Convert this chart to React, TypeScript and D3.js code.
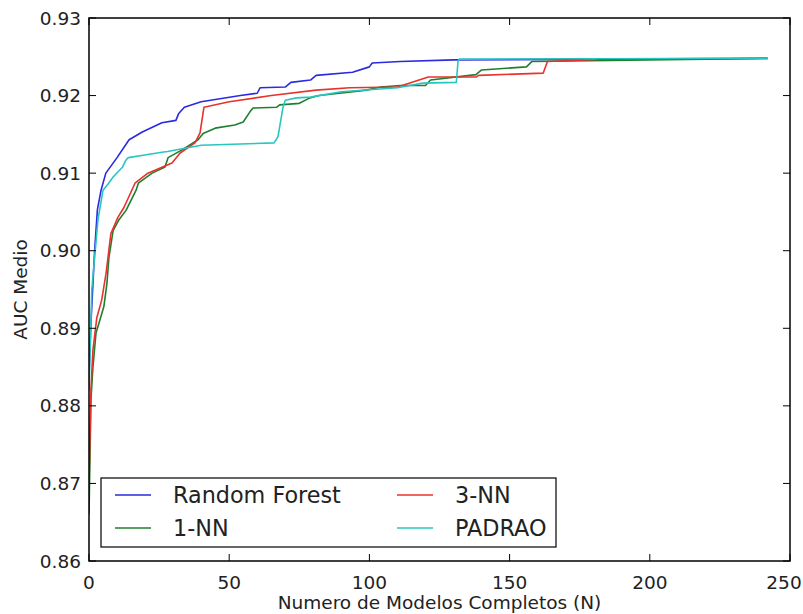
import React from "react";
import * as d3 from "d3";

const xTicks = [0, 50, 100, 150, 200, 250];
const yTicks = [0.86, 0.87, 0.88, 0.89, 0.9, 0.91, 0.92, 0.93];

const rfN = [0, 0.7, 2, 3, 4.3, 6, 10, 14.3, 19, 26, 31, 32, 34, 40, 54, 60, 61, 70, 72, 79, 81, 94, 100, 101, 111, 130, 242];
const rfAuc = [0.884, 0.8907, 0.9, 0.9053, 0.9078, 0.91, 0.912, 0.9143, 0.9153, 0.9165, 0.9168, 0.9177, 0.9185, 0.9192, 0.92, 0.9203, 0.921, 0.9211, 0.9217, 0.922, 0.9226, 0.923, 0.9237, 0.9242, 0.9244, 0.9246, 0.9248];

const nn1N = [0, 0.7, 1.4, 2.5, 3.6, 5.3, 6.4, 7.1, 8.6, 10.7, 13.2, 16.8, 17.6, 22.5, 27.1, 28.2, 33.2, 38.9, 40.7, 45, 52, 55, 57.4, 58.5, 67, 68, 75, 78.8, 82, 99, 104, 111, 120, 121.8, 138, 140, 156, 158, 242];
const nn1Auc = [0.866, 0.8808, 0.885, 0.8894, 0.8907, 0.8928, 0.8958, 0.8991, 0.9026, 0.904, 0.9052, 0.9078, 0.9087, 0.91, 0.9108, 0.912, 0.913, 0.9143, 0.9151, 0.9158, 0.9162, 0.9166, 0.9179, 0.9184, 0.9185, 0.9188, 0.919, 0.9197, 0.92, 0.9207, 0.9211, 0.9213, 0.9213, 0.922, 0.9227, 0.9233, 0.9237, 0.9244, 0.9248];

const nn3N = [0, 0.7, 1.4, 2.8, 4.5, 6.1, 7.8, 10.3, 12.5, 16.4, 21, 29.6, 32.5, 37.8, 39.6, 41, 50, 65, 81, 93, 110, 121, 138, 139, 162, 163.5, 181];
const nn3Auc = [0.87, 0.8821, 0.8872, 0.8914, 0.8936, 0.8971, 0.9022, 0.9043, 0.9056, 0.9087, 0.91, 0.9113, 0.9126, 0.9139, 0.9152, 0.9185, 0.9192, 0.92, 0.9207, 0.921, 0.9211, 0.9224, 0.9224, 0.9226, 0.9229, 0.9244, 0.92465];

const padN = [0, 1, 3.2, 5, 7, 8.6, 12, 13.2, 14, 19.3, 26, 28, 40, 66, 67.4, 69.2, 70, 74, 79, 90, 110, 119, 131, 131.6, 132, 242];
const padAuc = [0.882, 0.895, 0.904, 0.9078, 0.9087, 0.9095, 0.9108, 0.9117, 0.912, 0.9123, 0.9127, 0.9128, 0.9136, 0.9139, 0.9147, 0.9185, 0.9194, 0.9197, 0.9198, 0.9205, 0.921, 0.9216, 0.9217, 0.9244, 0.9247, 0.92482];

const seriesNames = ["Random Forest", "1-NN", "3-NN", "PADRAO"];
const seriesColors = ["#2a2ae0", "#1f7f2f", "#e8322c", "#28c6c0"];
const seriesX = [rfN, nn1N, nn3N, padN];
const seriesY = [rfAuc, nn1Auc, nn3Auc, padAuc];

const W = 803;
const H = 614;
const L = 89, R = 790, T = 18, B = 561;
const FONT = "DejaVu Sans, sans-serif";

export default function App() {
  const x = d3.scaleLinear().domain([0, 250]).range([L, R]);
  const y = d3.scaleLinear().domain([0.86, 0.93]).range([B, T]);
  const line = d3.line<[number, number]>().x((d) => x(d[0])).y((d) => y(d[1]));
  const tickLen = 7;

  const legendItems = [
    { i: 0, col: 0, row: 0 },
    { i: 1, col: 0, row: 1 },
    { i: 2, col: 1, row: 0 },
    { i: 3, col: 1, row: 1 },
  ];
  const lgX = 101, lgY = 478, lgW = 455, lgH = 69;
  const colX = [115, 397];
  const rowY = [495, 528];

  return (
    <svg width={W} height={H} style={{ position: "absolute", left: 0, top: 0, background: "#fff" }} fontFamily={FONT}>
      <rect x={0} y={0} width={W} height={H} fill="#fff" />
      <defs>
        <clipPath id="plotclip">
          <rect x={L} y={T} width={R - L} height={B - T} />
        </clipPath>
      </defs>
      <g clipPath="url(#plotclip)">
        {seriesX.map((xs, si) => (
          <path
            key={si}
            d={line(xs.map((v, k) => [v, seriesY[si][k]] as [number, number])) || ""}
            fill="none"
            stroke={seriesColors[si]}
            strokeWidth={1.6}
            strokeLinejoin="round"
          />
        ))}
      </g>
      {xTicks.map((t) => (
        <g key={"xt" + t}>
          <line x1={x(t)} x2={x(t)} y1={B} y2={B - tickLen} stroke="#000" strokeWidth={1} />
          <line x1={x(t)} x2={x(t)} y1={T} y2={T + tickLen} stroke="#000" strokeWidth={1} />
          <text
            x={Math.min(x(t), W - 19)}
            y={589}
            textAnchor="middle"
            fontSize={18.5}
            fill="#222"
          >
            {t}
          </text>
        </g>
      ))}
      {yTicks.map((t) => (
        <g key={"yt" + t}>
          <line x1={L} x2={L + tickLen} y1={y(t)} y2={y(t)} stroke="#000" strokeWidth={1} />
          <line x1={R} x2={R - tickLen} y1={y(t)} y2={y(t)} stroke="#000" strokeWidth={1} />
          <text x={L - 8} y={y(t) + 6.5} textAnchor="end" fontSize={18.5} fill="#222">
            {t.toFixed(2)}
          </text>
        </g>
      ))}
      <rect x={L} y={T} width={R - L} height={B - T} fill="none" stroke="#000" strokeWidth={1.5} />
      <text x={(L + R) / 2} y={609} textAnchor="middle" fontSize={18.5} fill="#222">
        Numero de Modelos Completos (N)
      </text>
      <text
        transform={`translate(27, ${(T + B) / 2}) rotate(-90)`}
        textAnchor="middle"
        fontSize={18.5}
        fill="#222"
      >
        AUC Medio
      </text>
      <rect x={lgX} y={lgY} width={lgW} height={lgH} fill="#fff" stroke="#000" strokeWidth={1.2} />
      {legendItems.map(({ i, col, row }) => (
        <g key={"lg" + i}>
          <line x1={colX[col]} x2={colX[col] + 36} y1={rowY[row]} y2={rowY[row]} stroke={seriesColors[i]} strokeWidth={1.6} />
          <text x={colX[col] + 58} y={rowY[row] + 8} fontSize={22.3} fill="#222">
            {seriesNames[i]}
          </text>
        </g>
      ))}
    </svg>
  );
}
